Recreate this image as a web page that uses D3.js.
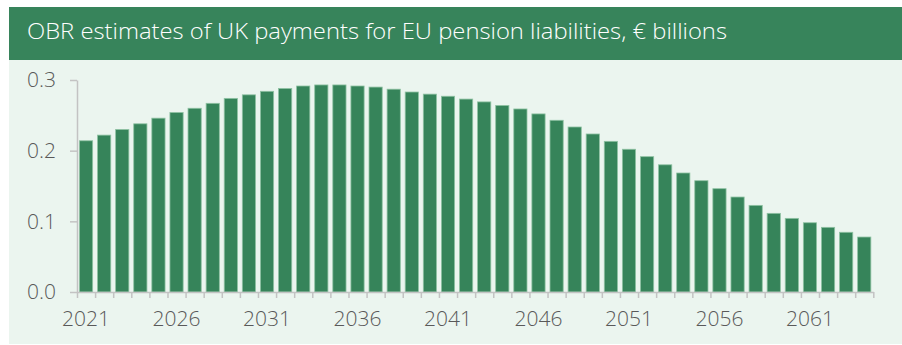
<!DOCTYPE html>
<html>
<head>
<meta charset="utf-8">
<script src="https://cdn.jsdelivr.net/npm/d3@7/dist/d3.min.js"></script>
<style>
  html, body { margin: 0; padding: 0; background: #ffffff; }
  svg { display: block; }
  text { font-family: "Open Sans", "DejaVu Sans", sans-serif; }
</style>
</head>
<body>
<svg id="chart" width="902" height="345"></svg>
<script>
// UK payments for EU pension liabilities, € billions, by year
const years = d3.range(2021, 2065);
const payments = [
  0.214, 0.222, 0.230, 0.238, 0.246, 0.254, 0.260, 0.267, 0.274, 0.279,
  0.284, 0.288, 0.2915, 0.293, 0.293, 0.2915, 0.290, 0.287, 0.283, 0.280,
  0.277, 0.273, 0.269, 0.264, 0.259, 0.252, 0.243, 0.2335, 0.2236, 0.2132,
  0.202, 0.1915, 0.180, 0.1684, 0.1575, 0.1462, 0.1344, 0.1226, 0.1113, 0.1042,
  0.098, 0.0915, 0.0845, 0.0778
];
const yTicks = [0, 0.1, 0.2, 0.3];
const xLabelYears = [2021, 2026, 2031, 2036, 2041, 2046, 2051, 2056, 2061];
const title = "OBR estimates of UK payments for EU pension liabilities, € billions";

const svg = d3.select("#chart");
const W = 902, H = 345;

// header band and plot panel
svg.append("rect").attr("x", 9).attr("y", 7).attr("width", W - 9).attr("height", 53)
  .attr("fill", "#37845b");
svg.append("rect").attr("x", 9).attr("y", 60).attr("width", W - 9).attr("height", 284)
  .attr("fill", "#ebf5ef");
svg.append("text").attr("x", 27).attr("y", 38.5)
  .attr("fill", "#ffffff").attr("font-size", 22).attr("font-weight", 300)
  .attr("textLength", 700).attr("lengthAdjust", "spacingAndGlyphs")
  .text(title);

const plotLeft = 77, plotRight = 873.3, plotTop = 80, plotBottom = 292;

const x = d3.scaleBand().domain(years).range([plotLeft, plotRight])
  .paddingInner(0.27).paddingOuter(0.135);
const xEdges = d3.scaleLinear().domain([0, years.length]).range([plotLeft, plotRight]);
const y = d3.scaleLinear().domain([0, 0.3]).range([plotBottom, plotTop]);

// bars
svg.append("g").selectAll("rect").data(years).join("rect")
  .attr("x", d => x(d))
  .attr("width", x.bandwidth())
  .attr("y", (d, i) => y(payments[i]))
  .attr("height", (d, i) => plotBottom - y(payments[i]))
  .attr("fill", "#36845a")
  .attr("stroke", "#8fc2a3")
  .attr("stroke-width", 0.8);

const axisColor = "#c3c3c3";
const labelColor = "#595959";

// y axis
const yAxis = svg.append("g").attr("transform", `translate(${plotLeft},0)`)
  .call(d3.axisLeft(y).tickValues(yTicks).tickFormat(d3.format(".1f"))
    .tickSize(7).tickPadding(14).tickSizeOuter(0));
yAxis.select(".domain").attr("stroke", axisColor).attr("stroke-width", 1.5);
yAxis.selectAll(".tick line").attr("stroke", axisColor).attr("stroke-width", 1.5);
yAxis.selectAll(".tick text").attr("fill", labelColor).attr("font-size", 21)
  .attr("font-weight", 300).attr("font-family", "'Open Sans', sans-serif");

// x axis: boundary ticks between years
const xAxis = svg.append("g").attr("transform", `translate(0,${plotBottom})`)
  .call(d3.axisBottom(xEdges).tickValues(d3.range(0, years.length + 1))
    .tickFormat("").tickSize(6).tickSizeOuter(0));
xAxis.select(".domain").attr("stroke", axisColor).attr("stroke-width", 1.5);
xAxis.selectAll(".tick line").attr("stroke", axisColor).attr("stroke-width", 1.5);

// x labels every five years, centred on bars
const xLab = svg.append("g").attr("transform", `translate(0,${plotBottom})`)
  .call(d3.axisBottom(x).tickValues(xLabelYears).tickSize(0).tickPadding(19));
xLab.select(".domain").remove();
xLab.selectAll(".tick text").attr("fill", labelColor).attr("font-size", 21)
  .attr("font-weight", 300).attr("font-family", "'Open Sans', sans-serif");
</script>
</body>
</html>
